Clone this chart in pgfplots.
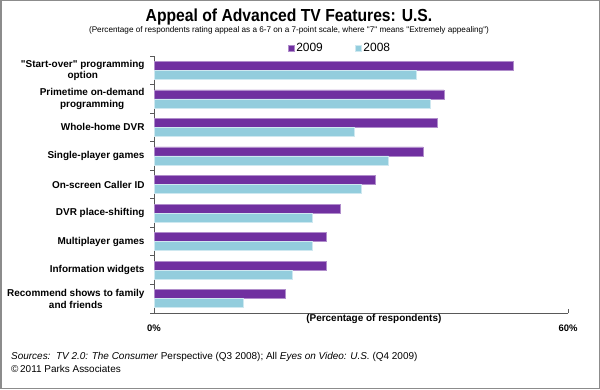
\documentclass[border=0pt]{standalone}
\usepackage{pgfplots}
\pgfplotsset{compat=1.18}
\usepackage{fontspec}
\setmainfont{Liberation Sans}
\newfontfamily\qfont{Liberation Sans}
\definecolor{p09}{HTML}{7030A0}
\definecolor{b08}{HTML}{93CDDD}
\newcommand\q{{\qfont"}}
\begin{document}
\begin{tikzpicture}[x=1bp,y=1bp]
\useasboundingbox (0,0) rectangle (600,389);
\fill[white] (0,0) rectangle (600,389);
\draw[black!45, line width=1.5bp] (0.75,0.75) rectangle (599.25,388.25);
\node[anchor=base, inner sep=0, xscale=0.9, font=\fontsize{17.5}{20}\selectfont\bfseries] at (289,368) {Appeal of Advanced TV Features: U.S.};
\node[anchor=base, inner sep=0, font=\fontsize{8.2}{9}\selectfont] at (289,357) {(Percentage of respondents rating appeal as a 6-7 on a 7-point scale, where \q7\q{} means \q Extremely appealing\q)};
\node[anchor=base west, inner sep=0, font=\fontsize{10}{11}\selectfont] at (11,30) {\textit{Sources:\ \ TV 2.0: The Consumer} Perspective (Q3 2008); All \textit{Eyes on Video: U.S.} (Q4 2009)};
\node[anchor=base west, inner sep=0, font=\fontsize{10}{11}\selectfont] at (11,17) {©\,2011 Parks Associates};
\begin{axis}[
  at={(154bp,76bp)}, anchor=south west,
  scale only axis, width=414bp, height=257bp,
  clip=false,
  xbar, bar width=9bp,
  xmin=0, xmax=60, ymin=-0.5, ymax=8.5,
  axis x line*=bottom, axis y line*=left,
  axis line style={black!65, line width=0.8bp},
  tick style={black!65, line width=0.8bp},
  major tick length=4bp, tick align=outside,
  xtick={0,60}, xticklabels={0\%,60\%},
  xtick style={yshift=4bp},
  xticklabel style={font=\fontsize{9.5}{11}\selectfont\bfseries, yshift=-4bp},
  ytick={-0.5,0.5,1.5,2.5,3.5,4.5,5.5,6.5,7.5,8.5},
  yticklabels={},
  extra y ticks={0,1,2,3,4,5,6,7,8},
  extra y tick labels={{Recommend shows to family\\and friends},{Information widgets},{Multiplayer games},{DVR place-shifting},{On-screen Caller ID},{Single-player games},{Whole-home DVR},{Primetime on-demand\\programming},{\q Start-over\q{} programming\\option}},
  extra y tick style={major tick length=0pt, yticklabel style={font=\fontsize{10}{11.5}\selectfont\bfseries, align=center, xshift=-6bp}},
  legend style={at={(0.449,1)}, anchor=south, draw=none, fill=none, legend columns=2,
    font=\fontsize{12}{13}\selectfont, inner sep=1bp,
    /tikz/every even column/.append style={column sep=30bp}},
  legend image code/.code={\fill[#1] (0bp,-3bp) rectangle (6bp,3bp);},
]
\addplot[fill=p09, draw=p09!55!white, line width=0.6bp, bar shift=4.5bp] coordinates {
 (19,0) (25,1) (25,2) (27,3) (32,4) (39,5) (41,6) (42,7) (52,8)};
\addplot[fill=b08, draw=b08!45!white, line width=0.6bp, bar shift=-4.5bp] coordinates {
 (13,0) (20,1) (23,2) (23,3) (30,4) (34,5) (29,6) (40,7) (38,8)};
\legend{2009,2008}
\node[font=\fontsize{10}{11}\selectfont\bfseries, yshift=-6bp] at (axis description cs:0.531,0) {(Percentage of respondents)};
\end{axis}
\end{tikzpicture}
\end{document}
